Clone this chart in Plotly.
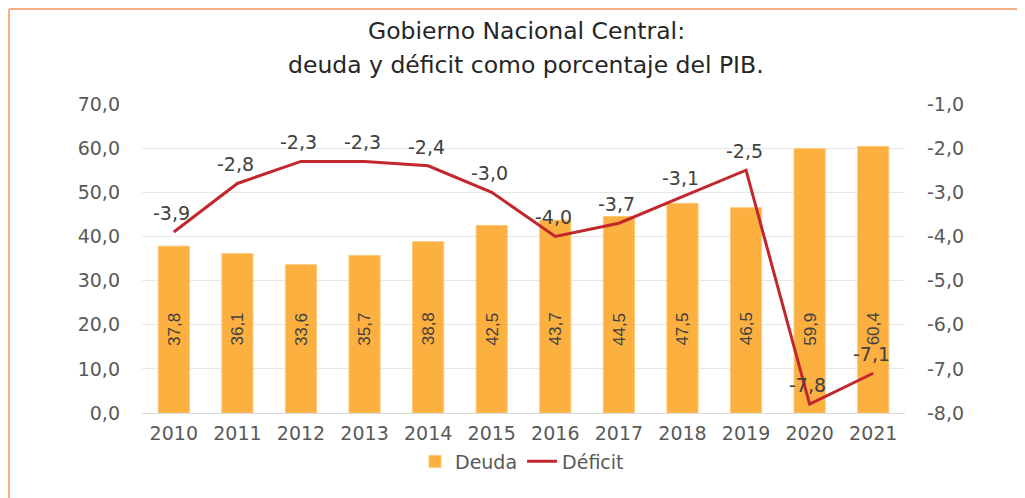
import plotly.graph_objects as go

years = ["2010", "2011", "2012", "2013", "2014", "2015", "2016", "2017", "2018", "2019", "2020", "2021"]
deuda = [37.8, 36.1, 33.6, 35.7, 38.8, 42.5, 43.7, 44.5, 47.5, 46.5, 59.9, 60.4]
deficit = [-3.9, -2.8, -2.3, -2.3, -2.4, -3.0, -4.0, -3.7, -3.1, -2.5, -7.8, -7.1]
left_ticks = [0, 10, 20, 30, 40, 50, 60, 70]
right_ticks = [-8, -7, -6, -5, -4, -3, -2, -1]
title_lines = ["Gobierno Nacional Central:", "deuda y déficit como porcentaje del PIB."]


def fmt(v):
    return f"{v:.1f}".replace(".", ",")


FONT = "DejaVu Sans, sans-serif"
BARFONT = "Liberation Sans, Arial, sans-serif"
TICK_COLOR = "#595959"
LABEL_COLOR = "#404040"

# page body has an 8px margin: figure pixel = screen pixel - 8
OFF = 8
W, H = 1025 - OFF, 498 - OFF
L = 142 - OFF
T = 104 - OFF
R = W - (905 - OFF)
B = H - (413 - OFF)
PW, PH = W - L - R, H - T - B


def px_x(p):
    return (p - OFF - L) / PW


def px_y(p):
    return (H - B - (p - OFF)) / PH


fig = go.Figure()
fig.add_trace(go.Bar(
    x=years, y=deuda, name="Deuda",
    marker=dict(color="#FBB040", line=dict(color="#FCC878", width=1)),
    yaxis="y",
))
fig.add_trace(go.Scatter(
    x=years, y=deficit, name="Déficit", mode="lines",
    line=dict(color="#C1272D", width=3),
    yaxis="y2",
))

annotations = []
for i, v in enumerate(deuda):
    annotations.append(dict(
        x=i, y=19, xref="x", yref="y", text=fmt(v), showarrow=False,
        textangle=-90, font=dict(family=BARFONT, size=17, color=LABEL_COLOR),
    ))
for i, v in enumerate(deficit):
    annotations.append(dict(
        x=i, y=v, xref="x", yref="y2", text=fmt(v), showarrow=False,
        yanchor="middle", yshift=19, xshift=-2,
        font=dict(family=FONT, size=19, color=LABEL_COLOR),
    ))
for line, py in zip(title_lines, [31, 65]):
    annotations.append(dict(
        x=px_x(526), y=px_y(py), xref="paper", yref="paper", text=line,
        showarrow=False, xanchor="center", yanchor="middle",
        font=dict(family=FONT, size=23.5, color="#262626"),
    ))

fig.update_layout(
    width=W, height=H,
    margin=dict(l=L, r=R, t=T, b=B),
    paper_bgcolor="white", plot_bgcolor="white",
    font=dict(family=FONT, color=TICK_COLOR),
    bargap=0.51,
    showlegend=True,
    legend=dict(
        orientation="h", x=px_x(522), xanchor="center", y=-0.157, yanchor="middle",
        font=dict(family=FONT, size=19, color=TICK_COLOR),
        tracegroupgap=0,
    ),
    xaxis=dict(
        type="category", showgrid=False, showline=True, linecolor="#D9D9D9",
        linewidth=1, ticks="", tickfont=dict(family=FONT, size=19, color=TICK_COLOR),
        ticklabelstandoff=3,
    ),
    yaxis=dict(
        range=[0, 70], tickvals=left_ticks, ticktext=[fmt(v) for v in left_ticks],
        showgrid=True, gridcolor="#E6E6E6", gridwidth=1, zeroline=False,
        tickfont=dict(family=FONT, size=19, color=TICK_COLOR),
        ticklabelstandoff=21,
    ),
    yaxis2=dict(
        range=[-8, -1], tickvals=right_ticks, ticktext=[fmt(v) for v in right_ticks],
        overlaying="y", side="right", showgrid=False, zeroline=False,
        tickfont=dict(family=FONT, size=19, color=TICK_COLOR),
        ticklabelstandoff=21,
    ),
    annotations=annotations,
    shapes=[
        dict(type="line", xref="paper", yref="paper",
             x0=px_x(9), x1=px_x(1030), y0=px_y(9), y1=px_y(9),
             line=dict(color="#F4B183", width=2)),
        dict(type="line", xref="paper", yref="paper",
             x0=px_x(9), x1=px_x(9), y0=px_y(9), y1=px_y(505),
             line=dict(color="#F4B183", width=2)),
    ],
)

fig.write_html("out.html")
